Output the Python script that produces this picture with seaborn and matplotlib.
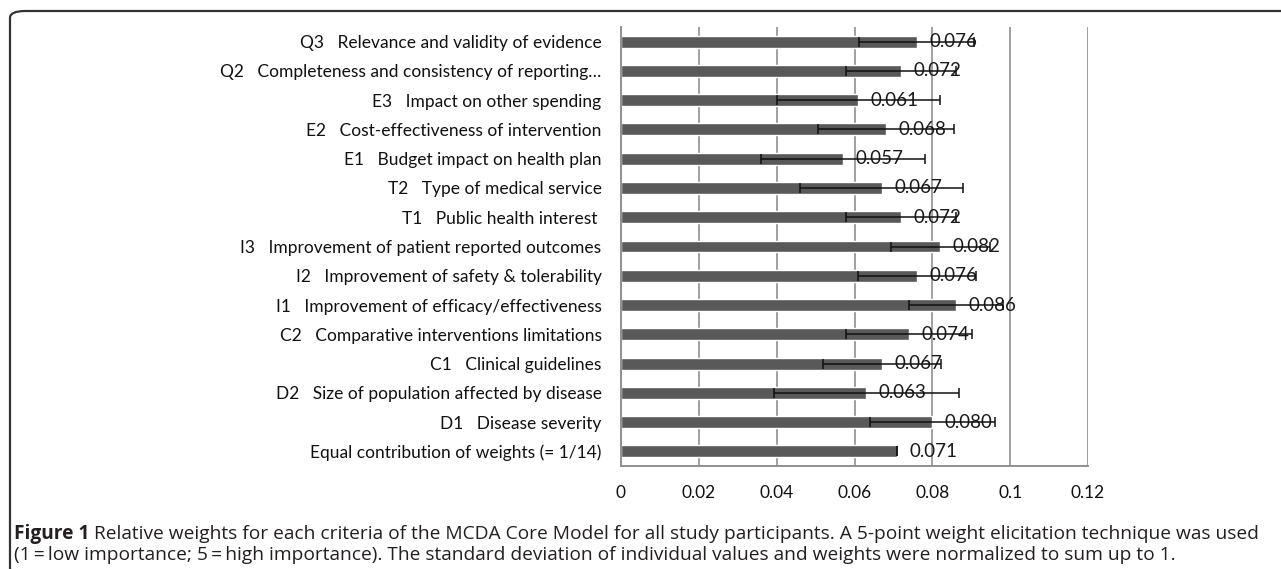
import matplotlib
matplotlib.use("Agg")
import matplotlib.pyplot as plt
import seaborn as sns
import pandas as pd
import numpy as np
from matplotlib.patches import FancyBboxPatch
from matplotlib import font_manager

categories = [
    "Q3   Relevance and validity of evidence",
    "Q2   Completeness and consistency of reporting\u2026",
    "E3   Impact on other spending",
    "E2   Cost-effectiveness of intervention",
    "E1   Budget impact on health plan",
    "T2   Type of medical service",
    "T1   Public health interest ",
    "I3   Improvement of patient reported outcomes",
    "I2   Improvement of safety & tolerability",
    "I1   Improvement of efficacy/effectiveness",
    "C2   Comparative interventions limitations",
    "C1   Clinical guidelines",
    "D2   Size of population affected by disease",
    "D1   Disease severity",
    "Equal contribution of weights (= 1/14)",
]
weights = [0.076, 0.072, 0.061, 0.068, 0.057, 0.067, 0.072, 0.082,
           0.076, 0.086, 0.074, 0.067, 0.063, 0.080, 0.071]
sd = [0.0148, 0.0142, 0.0210, 0.0175, 0.0211, 0.0209, 0.0142, 0.0127,
      0.0152, 0.0121, 0.0161, 0.0152, 0.0238, 0.0160, 0.0]
xticks = [0, 0.02, 0.04, 0.06, 0.08, 0.1, 0.12]
xtick_labels = ["0", "0.02", "0.04", "0.06", "0.08", "0.1", "0.12"]
caption_bold = "Figure 1"
caption_line1 = ("Relative weights for each criteria of the MCDA Core Model for all study participants. "
                 "A 5-point weight elicitation technique was used")
caption_line2 = ("(1\u2009=\u2009low importance; 5\u2009=\u2009high importance). The standard deviation "
                 "of individual values and weights were normalized to sum up to 1.")

sns.set_theme(style="white")
available = {f.name for f in font_manager.fontManager.ttflist}
label_font = "Lato" if "Lato" in available else "DejaVu Sans"
cap_font = next((f for f in ["Open Sans", "Noto Sans"] if f in available), "DejaVu Sans")
plt.rcParams["font.family"] = [label_font, "DejaVu Sans"]

df = pd.DataFrame({"category": categories, "weight": weights, "sd": sd})

W, H = 1281, 569
fig = plt.figure(figsize=(W / 100, H / 100), dpi=100)
ax = fig.add_axes([621 / W, 1 - 466 / H, (1088 - 621) / W, (466 - 27) / H])

sns.barplot(data=df, x="weight", y="category", orient="h", color="#595959",
            saturation=1, width=0.41, ax=ax, zorder=2)
ypos = np.arange(len(categories))
ax.errorbar(df["weight"], ypos, xerr=df["sd"], fmt="none", ecolor="#111111",
            elinewidth=1.1, capsize=3.6, capthick=1.1, zorder=4)

for y, v in zip(ypos, weights):
    ax.annotate(f"{v:.3f}", xy=(v, y), xytext=(9, 0), textcoords="offset points",
                ha="left", va="center", fontsize=13.5, color="#1a1a1a", zorder=3)

ax.set_xlim(0, 0.12)
ax.set_ylim(len(categories) - 0.5, -0.5)
ax.set_xticks(xticks)
ax.set_xticklabels(xtick_labels)
ax.set_xlabel("")
ax.set_ylabel("")
ax.tick_params(axis="x", length=0, pad=14, labelsize=12.5, labelcolor="#111111")
ax.tick_params(axis="y", length=0, pad=14, labelsize=12.5, labelcolor="#111111")
ax.xaxis.grid(True, color="#a0a0a0", linewidth=1.4, linestyle="-", zorder=0)
ax.set_axisbelow(True)
for s in ["top", "right"]:
    ax.spines[s].set_visible(False)
for s in ["left", "bottom"]:
    ax.spines[s].set_color("#909090")
    ax.spines[s].set_linewidth(1.4)

# frame (open to the right and bottom edges of the image)
frame = FancyBboxPatch((10 / W, 1 - 575 / H), 1.2, (575 - 11) / H,
                       boxstyle="round,pad=0,rounding_size=0.012",
                       transform=fig.transFigure, fill=False,
                       edgecolor="#333333", linewidth=1.6, clip_on=False)
fig.patches.append(frame)

# caption
cap_size = 13.8
fig.canvas.draw()
r = fig.canvas.get_renderer()
tb = fig.text(14 / W, 1 - 539 / H, caption_bold, fontsize=cap_size, fontweight="bold",
              family=[cap_font, "DejaVu Sans"], color="#231f20", va="baseline")
bb = tb.get_window_extent(renderer=r)
fig.text((bb.x1 + 5) / W, 1 - 539 / H, caption_line1, fontsize=cap_size,
         family=[cap_font, "DejaVu Sans"], color="#231f20", va="baseline")
fig.text(14 / W, 1 - 560 / H, caption_line2, fontsize=cap_size,
         family=[cap_font, "DejaVu Sans"], color="#231f20", va="baseline")

fig.savefig("out.png", dpi=100)
